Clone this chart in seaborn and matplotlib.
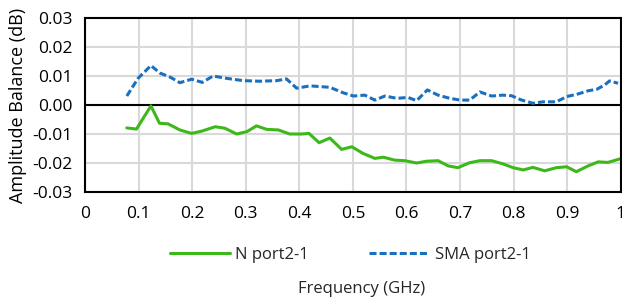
import numpy as np
import pandas as pd
import matplotlib
matplotlib.use("Agg")
import matplotlib.pyplot as plt
from matplotlib.lines import Line2D
import seaborn as sns

# Datos
n_freq = [0.078, 0.096, 0.123, 0.139, 0.155, 0.177, 0.199, 0.218, 0.243, 0.261,
          0.283, 0.302, 0.320, 0.339, 0.361, 0.382, 0.404, 0.418, 0.437, 0.457,
          0.479, 0.498, 0.519, 0.541, 0.557, 0.578, 0.597, 0.619, 0.637, 0.659,
          0.678, 0.696, 0.718, 0.737, 0.759, 0.780, 0.799, 0.818, 0.836, 0.858,
          0.880, 0.899, 0.917, 0.939, 0.958, 0.976, 0.998]
n_bal = [-0.0079, -0.0083, -0.0003, -0.0063, -0.0065, -0.0086, -0.0098, -0.0090,
         -0.0075, -0.0080, -0.0100, -0.0092, -0.0072, -0.0084, -0.0086, -0.0100,
         -0.0100, -0.0098, -0.0130, -0.0114, -0.0153, -0.0144, -0.0167, -0.0184,
         -0.0180, -0.0190, -0.0192, -0.0200, -0.0194, -0.0192, -0.0210, -0.0216,
         -0.0199, -0.0192, -0.0192, -0.0203, -0.0216, -0.0224, -0.0215, -0.0227,
         -0.0216, -0.0213, -0.0230, -0.0210, -0.0196, -0.0198, -0.0186]

sma_freq = [0.078, 0.099, 0.123, 0.140, 0.159, 0.177, 0.199, 0.219, 0.239, 0.264,
            0.295, 0.326, 0.358, 0.376, 0.395, 0.420, 0.457, 0.482, 0.501, 0.522,
            0.541, 0.560, 0.582, 0.603, 0.619, 0.639, 0.659, 0.681, 0.700, 0.718,
            0.737, 0.759, 0.780, 0.796, 0.815, 0.836, 0.855, 0.880, 0.899, 0.920,
            0.939, 0.955, 0.970, 0.979, 0.995]
sma_bal = [0.0031, 0.0092, 0.0136, 0.0110, 0.0096, 0.0077, 0.0089, 0.0078,
           0.0100, 0.0092, 0.0084, 0.0082, 0.0084, 0.0090, 0.0058, 0.0066,
           0.0061, 0.0042, 0.0031, 0.0034, 0.0017, 0.0031, 0.0023, 0.0026,
           0.0015, 0.0052, 0.0034, 0.0023, 0.0017, 0.0017, 0.0045, 0.0031,
           0.0034, 0.0032, 0.0017, 0.0006, 0.0011, 0.0011, 0.0029, 0.0038,
           0.0049, 0.0054, 0.0069, 0.0083, 0.0075]

x_ticks = [0, 0.1, 0.2, 0.3, 0.4, 0.5, 0.6, 0.7, 0.8, 0.9, 1]
x_labels = ["0", "0.1", "0.2", "0.3", "0.4", "0.5", "0.6", "0.7", "0.8", "0.9", "1"]
y_ticks = [-0.03, -0.02, -0.01, 0.0, 0.01, 0.02, 0.03]
y_labels = ["-0.03", "-0.02", "-0.01", "0.00", "0.01", "0.02", "0.03"]

GREEN = "#3cb81a"
BLUE = "#1a70c0"
DASH = (2.3, 1.0)

df = pd.concat([
    pd.DataFrame({"freq": n_freq, "bal": n_bal, "serie": "N port2-1"}),
    pd.DataFrame({"freq": sma_freq, "bal": sma_bal, "serie": "SMA port2-1"}),
])

sns.set_theme(style="white")
plt.rcParams["font.family"] = ["Open Sans", "DejaVu Sans"]

fig = plt.figure(figsize=(6.22, 3.03), dpi=100)
ax = fig.add_axes([0.1367, 0.3663, 0.8613, 0.5743])

sns.lineplot(
    data=df, x="freq", y="bal", hue="serie", style="serie",
    palette={"N port2-1": GREEN, "SMA port2-1": BLUE},
    dashes={"N port2-1": "", "SMA port2-1": DASH},
    linewidth=2.2, ax=ax, legend=False,
)

ax.set_xlim(0, 1)
ax.set_ylim(-0.03, 0.03)
ax.set_xticks(x_ticks)
ax.set_xticklabels(x_labels)
ax.set_yticks(y_ticks)
ax.set_yticklabels(y_labels)
ax.tick_params(axis="both", length=0, labelsize=12.5, colors="#000000")
ax.tick_params(axis="x", pad=10)
ax.tick_params(axis="y", pad=9)
ax.grid(True, color="#d9d9d9", linewidth=1.5)
ax.set_axisbelow(True)
ax.axhline(0, color="black", linewidth=1.5, zorder=1.5)
for s in ax.spines.values():
    s.set_color("black")
    s.set_linewidth(1.5)

ax.set_xlabel("")
ax.set_ylabel("Amplitude Balance (dB)", fontsize=13, color="black", labelpad=4)
fig.text(0.582, 0.046, "Frequency (GHz)", ha="center", va="center", fontsize=12)

handles = [
    Line2D([], [], color=GREEN, linewidth=2.2),
    Line2D([], [], color=BLUE, linewidth=2.2, linestyle=(0, DASH)),
]
fig.legend(handles, ["N port2-1", "SMA port2-1"], loc="center",
           bbox_to_anchor=(0.563, 0.158), ncol=2, frameon=False,
           fontsize=12, handlelength=3.6, columnspacing=3.6, handletextpad=0.35)

fig.savefig("out.png", dpi=100)
